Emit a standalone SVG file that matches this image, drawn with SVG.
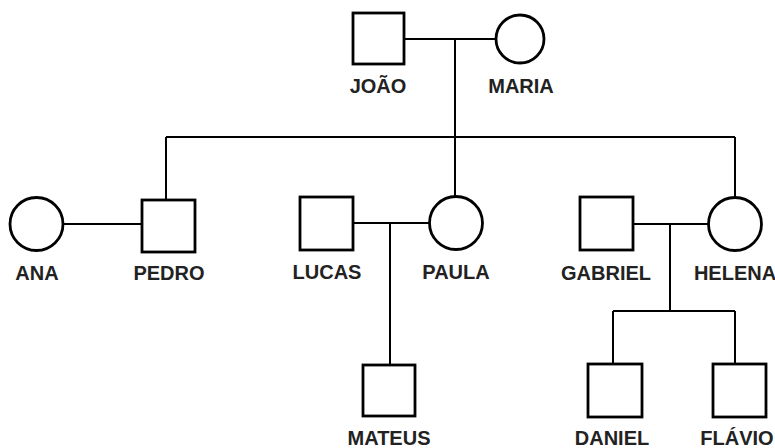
<svg xmlns="http://www.w3.org/2000/svg" width="775" height="448" viewBox="0 0 775 448">
<style>
.m{fill:#fff;stroke:#000;stroke-width:2.8}
.f{fill:#fff;stroke:#000;stroke-width:2.8}
.c{fill:none;stroke:#000;stroke-width:2}
text{font-family:"Liberation Sans",Arial,sans-serif;font-weight:bold;font-size:20px;text-anchor:middle;fill:#222}
</style>
<rect width="775" height="448" fill="#fff"/>
<g id="connectors">
<path class="c" d="M404 39H497"/>
<path class="c" d="M455 39V197"/>
<path class="c" d="M166 137H735"/>
<path class="c" d="M166 137V200"/>
<path class="c" d="M735 137V197"/>
<path class="c" d="M63 224H142"/>
<path class="c" d="M353 223H430"/>
<path class="c" d="M390 223V365"/>
<path class="c" d="M633 224H708"/>
<path class="c" d="M670 224V311"/>
<path class="c" d="M613 311H735"/>
<path class="c" d="M613 311V364"/>
<path class="c" d="M735 311V364"/>
</g>
<g id="joao"><rect class="m" x="353" y="13" width="51" height="51"/><text x="378" y="93">JOÃO</text></g>
<g id="maria"><circle class="f" cx="520" cy="39" r="24"/><text x="521" y="93">MARIA</text></g>
<g id="ana"><circle class="f" cx="36.5" cy="224" r="26.5"/><text x="37" y="280">ANA</text></g>
<g id="pedro"><rect class="m" x="142" y="200" width="53" height="52"/><text x="169" y="280">PEDRO</text></g>
<g id="lucas"><rect class="m" x="300" y="197" width="53" height="53"/><text x="327" y="279">LUCAS</text></g>
<g id="paula"><circle class="f" cx="456" cy="223" r="26.5"/><text x="456" y="279">PAULA</text></g>
<g id="gabriel"><rect class="m" x="580" y="197" width="53" height="53"/><text x="606" y="280">GABRIEL</text></g>
<g id="helena"><circle class="f" cx="735" cy="224" r="26.5"/><text x="735" y="280">HELENA</text></g>
<g id="mateus"><rect class="m" x="363" y="365" width="52" height="51"/><text x="389" y="445">MATEUS</text></g>
<g id="daniel"><rect class="m" x="588" y="364" width="54" height="53"/><text x="612" y="445">DANIEL</text></g>
<g id="flavio"><rect class="m" x="713" y="364" width="53" height="53"/><text x="737" y="445">FLÁVIO</text></g>
</svg>
